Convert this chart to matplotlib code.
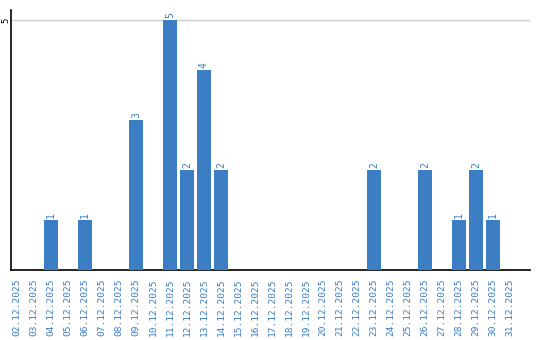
import matplotlib
matplotlib.use("Agg")
import matplotlib.pyplot as plt

# dates and counts
dates = ['%02d.12.2025' % d for d in range(2, 32)]
counts = [0, 0, 1, 0, 1, 0, 0, 3, 0, 5, 2, 4, 2, 0, 0, 0, 0, 0, 0, 0, 0,
          2, 0, 0, 2, 0, 1, 2, 1, 0]

blue = '#3b7ec3'

fig = plt.figure(figsize=(5.4, 3.4), dpi=100)
ax = fig.add_axes([11 / 540, 70 / 340, 519 / 540, 260 / 340])

x = list(range(len(dates)))
bars = ax.bar(x, counts, width=0.82, color=blue, zorder=3)

for xi, c in zip(x, counts):
    if c > 0:
        ax.text(xi, c + 0.04, str(c), rotation=90, ha='center', va='bottom',
                color=blue, fontsize=7, family='DejaVu Sans Mono')

ax.set_xlim(-0.35, 30.18)
ax.set_ylim(0, 5.2)
ax.set_yticks([5])
ax.set_yticklabels(['5'], rotation=90, va='center', fontsize=6.5,
                   family='DejaVu Sans Mono')
ax.yaxis.grid(True, color='#cccccc', linewidth=1, zorder=0)
ax.tick_params(axis='y', length=0, pad=0.5)

ax.set_xticks(x)
ax.set_xticklabels(dates, rotation=90, color=blue, fontsize=6.8,
                   family='DejaVu Sans Mono')
ax.tick_params(axis='x', length=0, pad=6)

ax.spines['top'].set_visible(False)
ax.spines['right'].set_visible(False)
ax.spines['left'].set_linewidth(1.2)
ax.spines['bottom'].set_linewidth(1.2)

plt.savefig('out.png', dpi=100)
plt.close()
